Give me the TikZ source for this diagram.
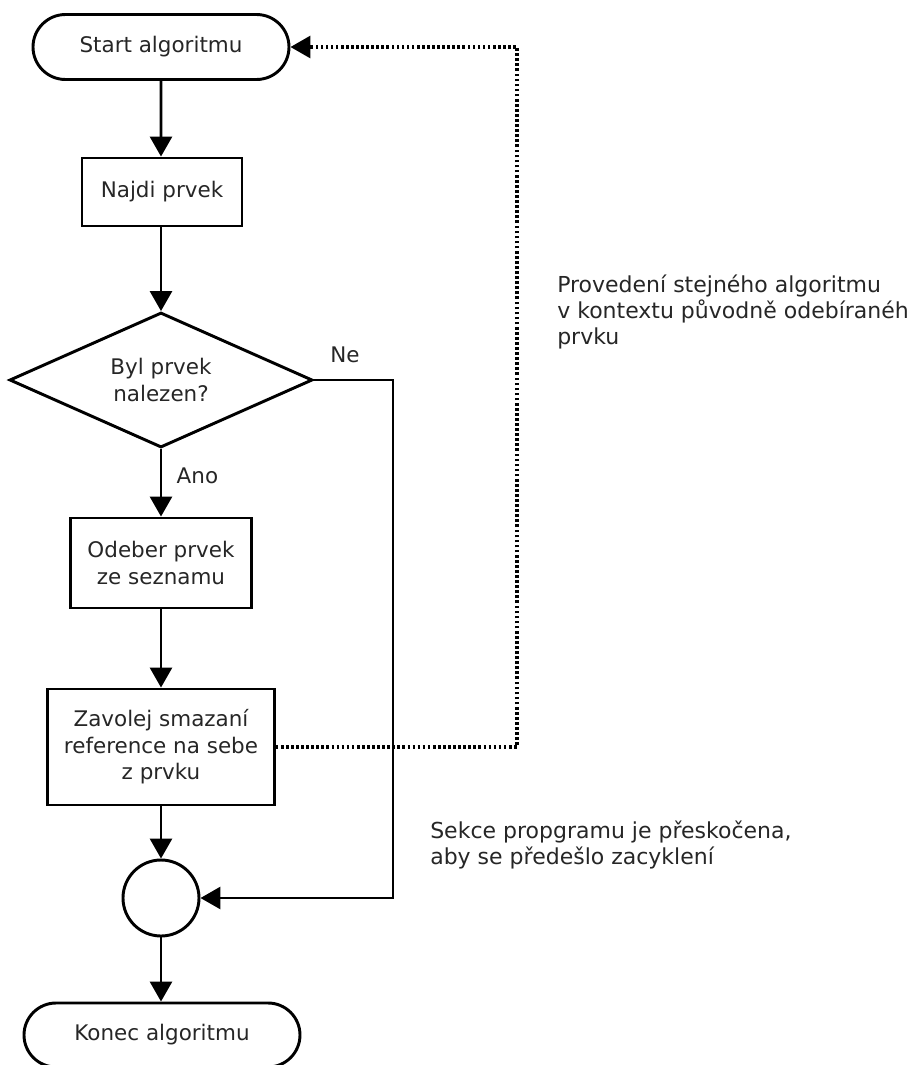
\documentclass[tikz,border=0pt]{standalone}
\usepackage{fontspec}
\setmainfont{DejaVu Sans}
\usetikzlibrary{shapes.geometric,shapes.misc,arrows.meta}
\begin{document}
\begin{tikzpicture}[x=0.75pt,y=-0.75pt,
  every node/.style={font=\fontsize{16.1}{19.8}\selectfont, text=black!85, align=center},
  line/.style={line width=2.2pt, draw=black},
  arr/.style={line, -{Triangle[length=15pt,width=16.5pt]}},
  dots/.style={line width=2.4pt, dash pattern=on 2pt off 1.8pt, -{Triangle[length=15pt,width=16.5pt]}},
  term/.style={rounded rectangle, draw, line width=2.2pt, inner sep=0pt},
  proc/.style={rectangle, draw, line width=2.2pt, inner sep=0pt},
  dec/.style={diamond, draw, line width=2.2pt, inner sep=0pt, aspect=2.24},
  conn/.style={circle, draw, line width=2.2pt, inner sep=0pt, minimum size=57pt},
  note/.style={align=left, anchor=north west, inner sep=0pt, font=\fontsize{16.5}{19.5}\selectfont}
]
\useasboundingbox (0,0) rectangle (910,1065);
\node[term, minimum width=192pt, minimum height=48.75pt] (start) at (161,47) {Start algoritmu};
\node[proc, minimum width=120pt, minimum height=51pt] (najdi) at (162,192) {Najdi prvek};
\node[dec, minimum width=227.25pt, minimum height=101.25pt] (dec) at (161,380) {Byl prvek\\nalezen?};
\node[proc, minimum width=135.75pt, minimum height=67.5pt] (odeber) at (161,563) {Odeber prvek\\ze seznamu};
\node[proc, minimum width=170pt, minimum height=87pt] (zav) at (161,747) {Zavolej smazaní\\reference na sebe\\z prvku};
\node[conn] (circ) at (161,898) {};
\node[term, minimum width=207pt, minimum height=48pt] (konec) at (162,1035) {Konec algoritmu};

\coordinate (ne1) at (393,380);
\coordinate (ne2) at (393,898);
\coordinate (d1) at (517,747);
\coordinate (d2) at (517,47);

\draw[arr] (start) -- (start |- najdi.north);
\draw[arr] (najdi.south -| start) -- (dec);
\draw[arr] (dec) -- (odeber);
\node[anchor=west] (ano) at (172,476) {Ano};
\draw[arr] (odeber) -- (zav);
\draw[arr] (zav) -- (circ);
\draw[arr] (circ) -- (circ |- konec.north);
\draw[arr] (dec.east) -- (ne1) -- (ne2) -- (circ.east);
\node (ne) at (345,355) {Ne};
\draw[dots] (zav.east) -- (d1) -- (d2) -- (start.east);

\node[note] (n1) at (557,275) {Provedení stejného algoritmu\\v kontextu původně odebíraného\\prvku};
\node[note] (n2) at (430,821) {Sekce propgramu je přeskočena,\\aby se předešlo zacyklení};
\end{tikzpicture}
\end{document}
